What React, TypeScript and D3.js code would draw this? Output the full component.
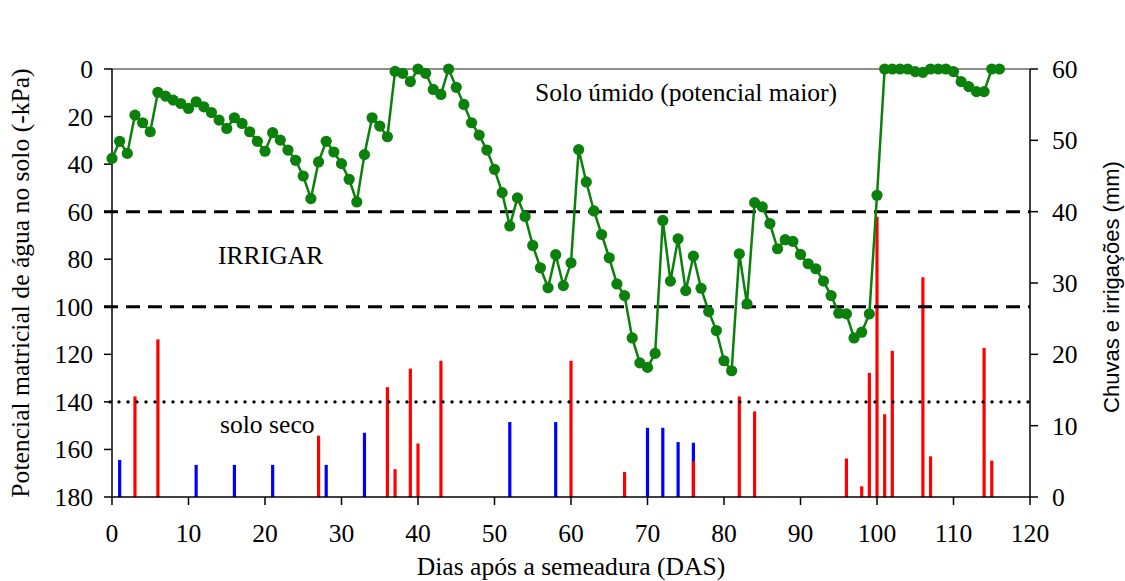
import React from 'react';
import * as d3 from 'd3';

// soil water potential (-kPa), one reading per day from day 0
const potencial = [
  37.6, 30.4, 35.5, 19.4, 22.6, 26.4, 9.8, 11.4, 13.1, 14.5,
  16.6, 13.8, 15.9, 18.3, 21.5, 25.0, 20.5, 22.9, 26.4, 30.4,
  34.6, 26.8, 29.9, 34.1, 38.4, 45.0, 54.5, 39.1, 30.4, 34.9,
  39.8, 46.4, 55.9, 36.0, 20.5, 24.0, 28.5, 1.0, 1.8, 5.3,
  0, 1.8, 8.6, 10.7, 0, 7.7, 14.9, 22.6, 27.8, 34.1,
  42.2, 52.0, 66.0, 54.2, 62.0, 74.2, 83.6, 92.0, 78.1, 91.1,
  81.5, 33.9, 47.5, 59.7, 69.6, 79.4, 90.4, 95.3, 113.1, 123.6,
  125.5, 119.6, 63.7, 89.2, 71.4, 93.2, 78.7, 92.2, 102.0, 110.0,
  122.7, 126.9, 77.7, 98.8, 56.2, 58.0, 65.0, 75.6, 71.8, 72.5,
  78.0, 81.9, 84.0, 89.2, 95.3, 102.7, 103.0, 113.1, 110.7, 103.0,
  53.1, 0, 0, 0, 0, 1.1, 1.4, 0, 0, 0,
  1.1, 5.3, 7.4, 9.5, 9.5, 0, 0,
];

// rain (mm)
const chuvaDias = [3, 6, 27, 36, 37, 39, 40, 43, 60, 67, 76, 82, 84, 96, 98, 99, 100, 101, 102, 106, 107, 114, 115];
const chuvaMm = [14.1, 22.1, 8.6, 15.4, 3.9, 18.0, 7.5, 19.1, 19.1, 3.5, 5.0, 14.1, 12.0, 5.4, 1.5, 17.4, 39.3, 11.6, 20.5, 30.8, 5.7, 20.9, 5.1];

// irrigation (mm)
const irrigDias = [1, 11, 16, 21, 28, 33, 52, 58, 70, 72, 74, 76];
const irrigMm = [5.2, 4.5, 4.5, 4.5, 4.5, 9.0, 10.5, 10.5, 9.7, 9.7, 7.7, 7.6];

const xTicks = [0, 10, 20, 30, 40, 50, 60, 70, 80, 90, 100, 110, 120];
const yTicks = [0, 20, 40, 60, 80, 100, 120, 140, 160, 180];
const y2Ticks = [0, 10, 20, 30, 40, 50, 60];
const limites = [60, 100];
const limiteSeco = 140;

const W = 1125;
const H = 581;
const m = { left: 112, right: 1030, top: 69, bottom: 497 };
const serif = "'Liberation Serif', 'Times New Roman', 'DejaVu Serif', serif";
const sans = "'Liberation Sans', Arial, sans-serif";
const fs = 25.6;

export default function App() {
  const x = d3.scaleLinear().domain([0, 120]).range([m.left, m.right]);
  const y = d3.scaleLinear().domain([0, 180]).range([m.top, m.bottom]);
  const y2 = d3.scaleLinear().domain([0, 60]).range([m.bottom, m.top]);

  const pts = potencial.map((v, i) => [i, v] as [number, number]);
  const line = d3.line<[number, number]>().x(d => x(d[0])).y(d => y(d[1]));

  const tl = 8;
  const txt = { fontFamily: serif, fontSize: fs };

  return (
    <svg width={W} height={H} style={{ position: 'absolute', left: 0, top: 0, background: '#fff' }}>
      <rect x={0} y={0} width={W} height={H} fill="#fff" />

      {/* bars */}
      {irrigDias.map((d, i) => (
        <line key={'b' + i} x1={x(d)} x2={x(d)} y1={y2(0)} y2={y2(irrigMm[i])} stroke="#0000ff" strokeWidth={3.2} />
      ))}
      {chuvaDias.map((d, i) => (
        <line key={'r' + i} x1={x(d)} x2={x(d)} y1={y2(0)} y2={y2(chuvaMm[i])} stroke="#ff0000" strokeWidth={3.2} />
      ))}

      {/* reference lines */}
      {limites.map(l => (
        <line key={l} x1={m.left - tl} x2={m.right} y1={y(l)} y2={y(l)} stroke="#000" strokeWidth={3}
          strokeDasharray="14,8" />
      ))}
      <line x1={m.left - 2} x2={m.right} y1={y(limiteSeco)} y2={y(limiteSeco)} stroke="#000" strokeWidth={3.4}
        strokeDasharray="0,9" strokeLinecap="round" />

      {/* frame */}
      <line x1={m.left} x2={m.right} y1={m.top} y2={m.top} stroke="#6a6a6a" strokeWidth={1.6} />
      <line x1={m.left} x2={m.left} y1={m.top} y2={m.bottom} stroke="#000" strokeWidth={1.5} />
      <line x1={m.right} x2={m.right} y1={m.top} y2={m.bottom} stroke="#000" strokeWidth={1.5} />
      <line x1={m.left} x2={m.right} y1={m.bottom} y2={m.bottom} stroke="#000" strokeWidth={1.5} />

      {/* left axis */}
      {yTicks.map(t => (
        <g key={'yl' + t}>
          <line x1={m.left - tl} x2={m.left} y1={y(t)} y2={y(t)} stroke="#000" strokeWidth={1.5} />
          <text x={93} y={y(t)} dy="0.35em" textAnchor="end" style={txt}>{t}</text>
        </g>
      ))}
      {/* right axis */}
      {y2Ticks.map(t => (
        <g key={'yr' + t}>
          <line x1={m.right} x2={m.right + tl} y1={y2(t)} y2={y2(t)} stroke="#000" strokeWidth={1.5} />
          <text x={1052} y={y2(t)} dy="0.35em" textAnchor="start" style={txt}>{t}</text>
        </g>
      ))}
      {/* bottom axis */}
      {xTicks.map(t => (
        <g key={'x' + t}>
          <line x1={x(t)} x2={x(t)} y1={m.bottom} y2={m.bottom + tl} stroke="#000" strokeWidth={1.5} />
          <text x={x(t)} y={542} textAnchor="middle" style={txt}>{t}</text>
        </g>
      ))}

      {/* green series */}
      <path d={line(pts) || ''} fill="none" stroke="#0b800b" strokeWidth={2.5} />
      {pts.map(p => (
        <circle key={'c' + p[0]} cx={x(p[0])} cy={y(p[1])} r={5.6} fill="#0b800b" />
      ))}

      {/* annotations */}
      <text x={535} y={101} style={txt}>Solo úmido (potencial maior)</text>
      <text x={218} y={264} style={txt}>IRRIGAR</text>
      <text x={220} y={433} style={txt}>solo seco</text>

      {/* axis titles */}
      <text x={(m.left + m.right) / 2} y={575} textAnchor="middle" style={txt}>Dias após a semeadura (DAS)</text>
      <text transform={`translate(29,${(m.top + m.bottom) / 2}) rotate(-90)`} textAnchor="middle" style={txt}>
        Potencial matricial de água no solo (-kPa)
      </text>
      <text transform={`translate(1119,287) rotate(-90)`} textAnchor="middle"
        style={{ fontFamily: sans, fontSize: 22 }}>
        Chuvas e irrigações (mm)
      </text>
    </svg>
  );
}
